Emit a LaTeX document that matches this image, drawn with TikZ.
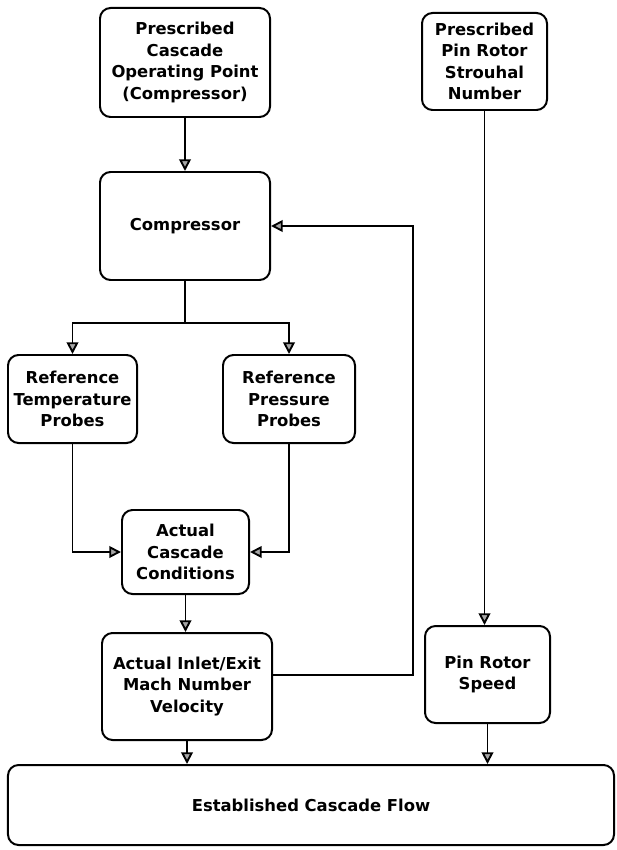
\documentclass[tikz,border=0pt]{standalone}
\usepackage{fontspec}
\newfontfamily\chartfont{DejaVu Sans}
\usepackage{tikz}
\usetikzlibrary{arrows.meta,calc}
\tikzset{
  block/.style={draw,line width=1.7pt,rounded corners=9pt,align=center,inner sep=0pt,
    font=\chartfont\bfseries\fontsize{14}{18.3}\selectfont},
  flow/.style={line width=1.6pt,-{Triangle[length=10pt,width=10pt,fill=black!35]}},
  feed/.style={line width=1.6pt}
}

\begin{document}
\begin{tikzpicture}[x=0.03cm,y=-0.03cm]
    \useasboundingbox (0,0) rectangle (616,850);

    % input boxes
    \node[block,minimum width=5.1cm,minimum height=3.27cm] (presc) at (185,62.5)
      {Prescribed\\Cascade\\Operating Point\\(Compressor)};
    \node[block,minimum width=3.75cm,minimum height=2.91cm] (strou) at (484.5,61.5)
      {Prescribed\\Pin Rotor\\Strouhal\\Number};

    \node[block,minimum width=5.1cm,minimum height=3.24cm] (comp) at (185,226) {Compressor};
    \node[block,minimum width=3.87cm,minimum height=2.64cm] (rtemp) at (72.5,399)
      {Reference\\Temperature\\Probes};
    \node[block,minimum width=3.96cm,minimum height=2.64cm] (rpres) at (289,399)
      {Reference\\Pressure\\Probes};
    \node[block,minimum width=3.81cm,minimum height=2.52cm] (actual) at (185.5,552)
      {Actual\\Cascade\\Conditions};
    \node[block,minimum width=5.1cm,minimum height=3.21cm] (inlet) at (187,686.5)
      {Actual Inlet/Exit\\Mach Number\\Velocity};
    \node[block,minimum width=3.75cm,minimum height=2.91cm] (speed) at (487.5,674.5)
      {Pin Rotor\\Speed};
    \node[block,minimum width=18.18cm,minimum height=2.4cm] (est) at (311,805)
      {Established Cascade Flow};

    % connectors
    \coordinate (split) at (185,323);
    \coordinate (back) at (413,675);
    \draw[flow] (presc.south) -- (comp.north);
    \draw[feed] (comp.south) -- (split);
    \draw[flow] (split) -| (rtemp.north);
    \draw[flow] (split) -| (rpres.north);
    \draw[flow] (rtemp.south) |- (actual.west);
    \draw[flow] (rpres.south) |- (actual.east);
    \draw[flow] (actual.south) -- (actual.south |- inlet.north);
    \draw[flow] (inlet.east |- back) -- (back) |- (comp.east);
    \draw[flow] (strou.south) -- (strou.south |- speed.north);
    \draw[flow] (inlet.south) -- (inlet.south |- est.north);
    \draw[flow] (speed.south) -- (speed.south |- est.north);
\end{tikzpicture}
\end{document}
